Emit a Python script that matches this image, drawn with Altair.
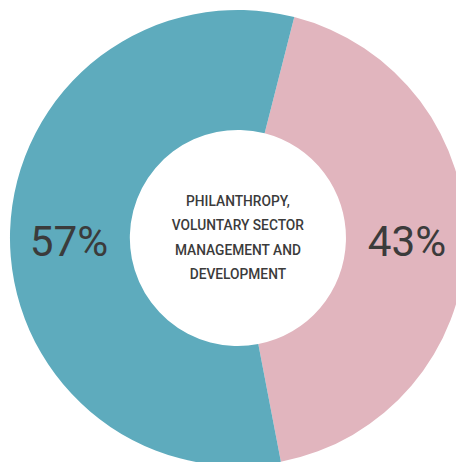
import altair as alt
import pandas as pd
import math

categories = ["Pink", "Blue"]
values = [43, 57]
labels = ["43%", "57%"]
colors = ["#e1b5be", "#5eabbd"]
center_lines = ["PHILANTHROPY,", "VOLUNTARY SECTOR", "MANAGEMENT AND", "DEVELOPMENT"]

df = pd.DataFrame({"cat": categories, "value": values, "label": labels, "order": [0, 1]})

start = 0.25
theta_scale = alt.Scale(range=[start, start + 2 * math.pi], domain=[0, 100])
text_start = 0.07 * math.pi
text_theta_scale = alt.Scale(range=[text_start, text_start + 2 * math.pi], domain=[0, 100])
FONT = "Roboto"
CX, CY = 234, 230

arcs = alt.Chart(df).mark_arc(outerRadius=232, innerRadius=110, stroke=None).encode(
    theta=alt.Theta("value:Q", stack=True, scale=theta_scale),
    order=alt.Order("order:Q"),
    color=alt.Color("cat:N", scale=alt.Scale(domain=categories, range=colors), legend=None),
    x=alt.value(CX), y=alt.value(CY),
)

pct = alt.Chart(df).mark_text(radius=172, font=FONT, fontSize=43, color="#3b3b3b", baseline="middle").encode(
    theta=alt.Theta("value:Q", stack=True, scale=text_theta_scale),
    order=alt.Order("order:Q"),
    text="label:N", x=alt.value(CX), y=alt.value(CY + 5),
)

center = alt.Chart(pd.DataFrame({"t": [center_lines]})).mark_text(
    font=FONT, fontSize=14, fontWeight=500, color="#3b3b3b", lineHeight=25, align="center", baseline="middle"
).encode(text="t", x=alt.value(CX), y=alt.value(193))

chart = alt.layer(arcs, pct, center).resolve_scale(theta="independent").properties(
    width=456, height=454, padding=0, autosize=alt.AutoSizeParams(type="none")
).configure_view(stroke=None)

chart.save("out.html", embed_options={"renderer": "svg", "actions": False})
